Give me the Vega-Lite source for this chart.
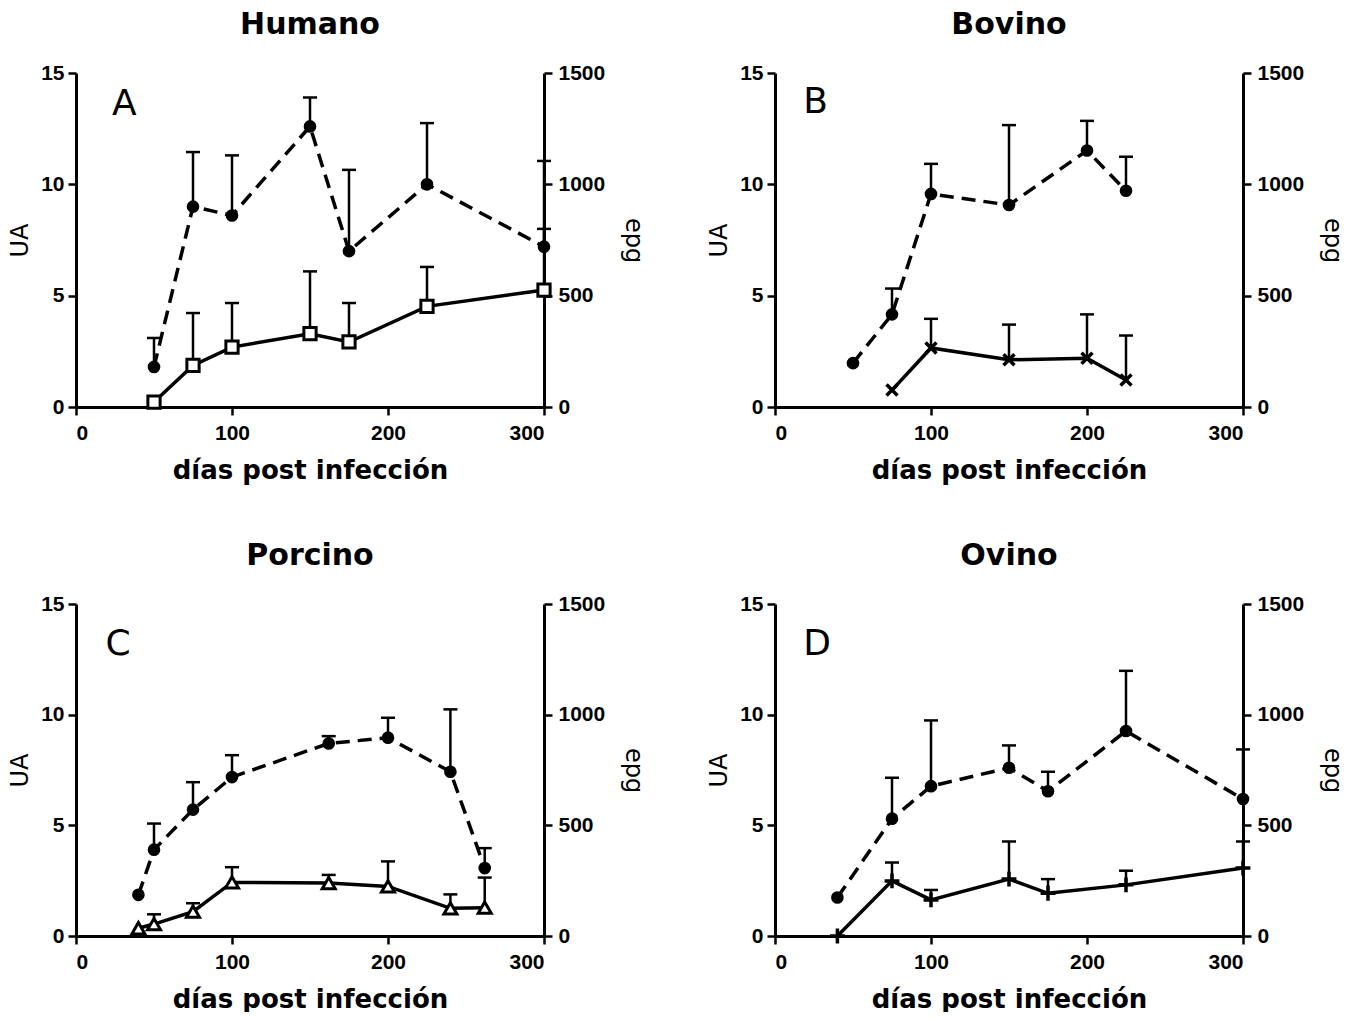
{
  "$schema": "https://vega.github.io/schema/vega-lite/v6.json",
  "background": "white",
  "padding": {"left": 8, "top": 10, "right": 6, "bottom": 0},
  "datasets": {
    "humano": [
      {"dia": 50, "serie": "epg", "valor": 180, "sup": 310},
      {"dia": 75, "serie": "epg", "valor": 900, "sup": 1145},
      {"dia": 100, "serie": "epg", "valor": 860, "sup": 1130},
      {"dia": 150, "serie": "epg", "valor": 1260, "sup": 1390},
      {"dia": 175, "serie": "epg", "valor": 700, "sup": 1065},
      {"dia": 225, "serie": "epg", "valor": 1000, "sup": 1275},
      {"dia": 300, "serie": "epg", "valor": 720, "sup": 1105},
      {"dia": 50, "serie": "UA", "valor": 0.22, "sup": null},
      {"dia": 75, "serie": "UA", "valor": 1.87, "sup": 4.22},
      {"dia": 100, "serie": "UA", "valor": 2.69, "sup": 4.67},
      {"dia": 150, "serie": "UA", "valor": 3.29, "sup": 6.09},
      {"dia": 175, "serie": "UA", "valor": 2.92, "sup": 4.67},
      {"dia": 225, "serie": "UA", "valor": 4.52, "sup": 6.29},
      {"dia": 300, "serie": "UA", "valor": 5.25, "sup": 8.0}
    ],
    "bovino": [
      {"dia": 50, "serie": "epg", "valor": 197, "sup": null},
      {"dia": 75, "serie": "epg", "valor": 416, "sup": 532},
      {"dia": 100, "serie": "epg", "valor": 957, "sup": 1092},
      {"dia": 150, "serie": "epg", "valor": 907, "sup": 1266},
      {"dia": 200, "serie": "epg", "valor": 1152, "sup": 1285},
      {"dia": 225, "serie": "epg", "valor": 971, "sup": 1124},
      {"dia": 75, "serie": "UA", "valor": 0.76, "sup": null},
      {"dia": 100, "serie": "UA", "valor": 2.65, "sup": 3.96},
      {"dia": 150, "serie": "UA", "valor": 2.12, "sup": 3.7},
      {"dia": 200, "serie": "UA", "valor": 2.19, "sup": 4.16},
      {"dia": 225, "serie": "UA", "valor": 1.21, "sup": 3.21}
    ],
    "porcino": [
      {"dia": 40, "serie": "epg", "valor": 186, "sup": null},
      {"dia": 50, "serie": "epg", "valor": 390, "sup": 508},
      {"dia": 75, "serie": "epg", "valor": 571, "sup": 695},
      {"dia": 100, "serie": "epg", "valor": 718, "sup": 817},
      {"dia": 162, "serie": "epg", "valor": 870, "sup": 903},
      {"dia": 200, "serie": "epg", "valor": 896, "sup": 986},
      {"dia": 240, "serie": "epg", "valor": 742, "sup": 1024},
      {"dia": 262, "serie": "epg", "valor": 307, "sup": 397},
      {"dia": 40, "serie": "UA", "valor": 0.35, "sup": null},
      {"dia": 50, "serie": "UA", "valor": 0.54, "sup": 0.98},
      {"dia": 75, "serie": "UA", "valor": 1.1, "sup": 1.48},
      {"dia": 100, "serie": "UA", "valor": 2.42, "sup": 3.11},
      {"dia": 162, "serie": "UA", "valor": 2.39, "sup": 2.76},
      {"dia": 200, "serie": "UA", "valor": 2.24, "sup": 3.37},
      {"dia": 240, "serie": "UA", "valor": 1.25, "sup": 1.88},
      {"dia": 262, "serie": "UA", "valor": 1.28, "sup": 2.64}
    ],
    "ovino": [
      {"dia": 40, "serie": "epg", "valor": 174, "sup": null},
      {"dia": 75, "serie": "epg", "valor": 530, "sup": 715},
      {"dia": 100, "serie": "epg", "valor": 677, "sup": 974},
      {"dia": 150, "serie": "epg", "valor": 760, "sup": 861},
      {"dia": 175, "serie": "epg", "valor": 654, "sup": 742},
      {"dia": 225, "serie": "epg", "valor": 926, "sup": 1198},
      {"dia": 300, "serie": "epg", "valor": 619, "sup": 843},
      {"dia": 40, "serie": "UA", "valor": 0, "sup": null},
      {"dia": 75, "serie": "UA", "valor": 2.49, "sup": 3.32},
      {"dia": 100, "serie": "UA", "valor": 1.63, "sup": 2.08},
      {"dia": 150, "serie": "UA", "valor": 2.57, "sup": 4.27},
      {"dia": 175, "serie": "UA", "valor": 1.93, "sup": 2.57},
      {"dia": 225, "serie": "UA", "valor": 2.31, "sup": 2.95},
      {"dia": 300, "serie": "UA", "valor": 3.07, "sup": 4.27}
    ]
  },
  "columns": 2,
  "spacing": {"row": 58, "column": 62},
  "concat": [
    {
      "title": "Humano",
      "width": 468, "height": 334,
      "data": {"name": "humano"},
      "layer": [
        {
          "transform": [{"filter": "datum.serie === 'epg'"}],
          "encoding": {
            "x": {"field": "dia", "type": "quantitative", "scale": {"domain": [0, 300], "nice": false}, "axis": {"values": [0, 100, 200, 300], "title": "días post infección"}},
            "y": {"field": "valor", "type": "quantitative", "scale": {"domain": [0, 1500], "nice": false}, "axis": {"orient": "right", "values": [0, 500, 1000, 1500], "format": "d", "title": "epg"}}
          },
          "layer": [
            {"mark": {"type": "line", "strokeDash": [14, 8], "strokeWidth": 3.5, "color": "black"}},
            {"transform": [{"filter": "datum.sup != null"}], "mark": {"type": "rule", "strokeWidth": 2.5, "color": "black"}, "encoding": {"y2": {"field": "sup"}}},
            {"transform": [{"filter": "datum.sup != null"}], "mark": {"type": "point", "shape": "stroke", "size": 196, "strokeWidth": 2.5, "color": "black", "filled": false, "opacity": 1},
             "encoding": {"y": {"field": "sup", "type": "quantitative", "scale": {"domain": [0, 1500], "nice": false}, "axis": {"orient": "right", "values": [0, 500, 1000, 1500], "format": "d", "title": "epg"}}}},
            {"mark": {"type": "point", "shape": "circle", "size": 160, "filled": true, "color": "black", "opacity": 1}}
          ]
        },
        {
          "transform": [{"filter": "datum.serie === 'UA'"}],
          "encoding": {
            "x": {"field": "dia", "type": "quantitative", "scale": {"domain": [0, 300], "nice": false}, "axis": {"values": [0, 100, 200, 300], "title": "días post infección"}},
            "y": {"field": "valor", "type": "quantitative", "scale": {"domain": [0, 15], "nice": false}, "axis": {"values": [0, 5, 10, 15], "title": "UA"}}
          },
          "layer": [
            {"mark": {"type": "line", "strokeWidth": 3.5, "color": "black"}},
            {"transform": [{"filter": "datum.sup != null"}], "mark": {"type": "rule", "strokeWidth": 2.5, "color": "black"}, "encoding": {"y2": {"field": "sup"}}},
            {"transform": [{"filter": "datum.sup != null"}], "mark": {"type": "point", "shape": "stroke", "size": 196, "strokeWidth": 2.5, "color": "black", "filled": false, "opacity": 1},
             "encoding": {"y": {"field": "sup", "type": "quantitative", "scale": {"domain": [0, 15], "nice": false}, "axis": {"values": [0, 5, 10, 15], "title": "UA"}}}},
            {"mark": {"type": "point", "shape": "square", "size": 150, "filled": true, "fill": "white", "stroke": "black", "strokeWidth": 3, "opacity": 1}}
          ]
        },
        {
          "data": {"values": [{"letra": "A", "dia": 31, "valor": 13.6}]},
          "mark": {"type": "text", "font": "DejaVu Sans", "fontSize": 36, "fontWeight": "normal", "color": "black", "align": "center", "baseline": "middle"},
          "encoding": {
            "x": {"field": "dia", "type": "quantitative", "scale": {"domain": [0, 300], "nice": false}, "axis": {"values": [0, 100, 200, 300], "title": "días post infección"}},
            "y": {"field": "valor", "type": "quantitative", "scale": {"domain": [0, 15], "nice": false}, "axis": null},
            "text": {"field": "letra"}
          }
        }
      ],
      "resolve": {"scale": {"y": "independent"}}
    },
    {
      "title": "Bovino",
      "width": 468, "height": 334,
      "data": {"name": "bovino"},
      "layer": [
        {
          "transform": [{"filter": "datum.serie === 'epg'"}],
          "encoding": {
            "x": {"field": "dia", "type": "quantitative", "scale": {"domain": [0, 300], "nice": false}, "axis": {"values": [0, 100, 200, 300], "title": "días post infección"}},
            "y": {"field": "valor", "type": "quantitative", "scale": {"domain": [0, 1500], "nice": false}, "axis": {"orient": "right", "values": [0, 500, 1000, 1500], "format": "d", "title": "epg"}}
          },
          "layer": [
            {"mark": {"type": "line", "strokeDash": [14, 8], "strokeWidth": 3.5, "color": "black"}},
            {"transform": [{"filter": "datum.sup != null"}], "mark": {"type": "rule", "strokeWidth": 2.5, "color": "black"}, "encoding": {"y2": {"field": "sup"}}},
            {"transform": [{"filter": "datum.sup != null"}], "mark": {"type": "point", "shape": "stroke", "size": 196, "strokeWidth": 2.5, "color": "black", "filled": false, "opacity": 1},
             "encoding": {"y": {"field": "sup", "type": "quantitative", "scale": {"domain": [0, 1500], "nice": false}, "axis": {"orient": "right", "values": [0, 500, 1000, 1500], "format": "d", "title": "epg"}}}},
            {"mark": {"type": "point", "shape": "circle", "size": 160, "filled": true, "color": "black", "opacity": 1}}
          ]
        },
        {
          "transform": [{"filter": "datum.serie === 'UA'"}],
          "encoding": {
            "x": {"field": "dia", "type": "quantitative", "scale": {"domain": [0, 300], "nice": false}, "axis": {"values": [0, 100, 200, 300], "title": "días post infección"}},
            "y": {"field": "valor", "type": "quantitative", "scale": {"domain": [0, 15], "nice": false}, "axis": {"values": [0, 5, 10, 15], "title": "UA"}}
          },
          "layer": [
            {"mark": {"type": "line", "strokeWidth": 3.5, "color": "black"}},
            {"transform": [{"filter": "datum.sup != null"}], "mark": {"type": "rule", "strokeWidth": 2.5, "color": "black"}, "encoding": {"y2": {"field": "sup"}}},
            {"transform": [{"filter": "datum.sup != null"}], "mark": {"type": "point", "shape": "stroke", "size": 196, "strokeWidth": 2.5, "color": "black", "filled": false, "opacity": 1},
             "encoding": {"y": {"field": "sup", "type": "quantitative", "scale": {"domain": [0, 15], "nice": false}, "axis": {"values": [0, 5, 10, 15], "title": "UA"}}}},
            {"mark": {"type": "point", "shape": "M-1,-1L1,1M-1,1L1,-1", "size": 120, "filled": false, "stroke": "black", "strokeWidth": 3.5, "opacity": 1}}
          ]
        },
        {
          "data": {"values": [{"letra": "B", "dia": 26, "valor": 13.7}]},
          "mark": {"type": "text", "font": "DejaVu Sans", "fontSize": 36, "fontWeight": "normal", "color": "black", "align": "center", "baseline": "middle"},
          "encoding": {
            "x": {"field": "dia", "type": "quantitative", "scale": {"domain": [0, 300], "nice": false}, "axis": {"values": [0, 100, 200, 300], "title": "días post infección"}},
            "y": {"field": "valor", "type": "quantitative", "scale": {"domain": [0, 15], "nice": false}, "axis": null},
            "text": {"field": "letra"}
          }
        }
      ],
      "resolve": {"scale": {"y": "independent"}}
    },
    {
      "title": "Porcino",
      "width": 468, "height": 332,
      "data": {"name": "porcino"},
      "layer": [
        {
          "transform": [{"filter": "datum.serie === 'epg'"}],
          "encoding": {
            "x": {"field": "dia", "type": "quantitative", "scale": {"domain": [0, 300], "nice": false}, "axis": {"values": [0, 100, 200, 300], "title": "días post infección"}},
            "y": {"field": "valor", "type": "quantitative", "scale": {"domain": [0, 1500], "nice": false}, "axis": {"orient": "right", "values": [0, 500, 1000, 1500], "format": "d", "title": "epg"}}
          },
          "layer": [
            {"mark": {"type": "line", "strokeDash": [14, 8], "strokeWidth": 3.5, "color": "black"}},
            {"transform": [{"filter": "datum.sup != null"}], "mark": {"type": "rule", "strokeWidth": 2.5, "color": "black"}, "encoding": {"y2": {"field": "sup"}}},
            {"transform": [{"filter": "datum.sup != null"}], "mark": {"type": "point", "shape": "stroke", "size": 196, "strokeWidth": 2.5, "color": "black", "filled": false, "opacity": 1},
             "encoding": {"y": {"field": "sup", "type": "quantitative", "scale": {"domain": [0, 1500], "nice": false}, "axis": {"orient": "right", "values": [0, 500, 1000, 1500], "format": "d", "title": "epg"}}}},
            {"mark": {"type": "point", "shape": "circle", "size": 160, "filled": true, "color": "black", "opacity": 1}}
          ]
        },
        {
          "transform": [{"filter": "datum.serie === 'UA'"}],
          "encoding": {
            "x": {"field": "dia", "type": "quantitative", "scale": {"domain": [0, 300], "nice": false}, "axis": {"values": [0, 100, 200, 300], "title": "días post infección"}},
            "y": {"field": "valor", "type": "quantitative", "scale": {"domain": [0, 15], "nice": false}, "axis": {"values": [0, 5, 10, 15], "title": "UA"}}
          },
          "layer": [
            {"mark": {"type": "line", "strokeWidth": 3.5, "color": "black"}},
            {"transform": [{"filter": "datum.sup != null"}], "mark": {"type": "rule", "strokeWidth": 2.5, "color": "black"}, "encoding": {"y2": {"field": "sup"}}},
            {"transform": [{"filter": "datum.sup != null"}], "mark": {"type": "point", "shape": "stroke", "size": 196, "strokeWidth": 2.5, "color": "black", "filled": false, "opacity": 1},
             "encoding": {"y": {"field": "sup", "type": "quantitative", "scale": {"domain": [0, 15], "nice": false}, "axis": {"values": [0, 5, 10, 15], "title": "UA"}}}},
            {"mark": {"type": "point", "shape": "triangle-up", "size": 170, "filled": true, "fill": "white", "stroke": "black", "strokeWidth": 3, "opacity": 1}}
          ]
        },
        {
          "data": {"values": [{"letra": "C", "dia": 27, "valor": 13.2}]},
          "mark": {"type": "text", "font": "DejaVu Sans", "fontSize": 36, "fontWeight": "normal", "color": "black", "align": "center", "baseline": "middle"},
          "encoding": {
            "x": {"field": "dia", "type": "quantitative", "scale": {"domain": [0, 300], "nice": false}, "axis": {"values": [0, 100, 200, 300], "title": "días post infección"}},
            "y": {"field": "valor", "type": "quantitative", "scale": {"domain": [0, 15], "nice": false}, "axis": null},
            "text": {"field": "letra"}
          }
        }
      ],
      "resolve": {"scale": {"y": "independent"}}
    },
    {
      "title": "Ovino",
      "width": 468, "height": 332,
      "data": {"name": "ovino"},
      "layer": [
        {
          "transform": [{"filter": "datum.serie === 'epg'"}],
          "encoding": {
            "x": {"field": "dia", "type": "quantitative", "scale": {"domain": [0, 300], "nice": false}, "axis": {"values": [0, 100, 200, 300], "title": "días post infección"}},
            "y": {"field": "valor", "type": "quantitative", "scale": {"domain": [0, 1500], "nice": false}, "axis": {"orient": "right", "values": [0, 500, 1000, 1500], "format": "d", "title": "epg"}}
          },
          "layer": [
            {"mark": {"type": "line", "strokeDash": [14, 8], "strokeWidth": 3.5, "color": "black"}},
            {"transform": [{"filter": "datum.sup != null"}], "mark": {"type": "rule", "strokeWidth": 2.5, "color": "black"}, "encoding": {"y2": {"field": "sup"}}},
            {"transform": [{"filter": "datum.sup != null"}], "mark": {"type": "point", "shape": "stroke", "size": 196, "strokeWidth": 2.5, "color": "black", "filled": false, "opacity": 1},
             "encoding": {"y": {"field": "sup", "type": "quantitative", "scale": {"domain": [0, 1500], "nice": false}, "axis": {"orient": "right", "values": [0, 500, 1000, 1500], "format": "d", "title": "epg"}}}},
            {"mark": {"type": "point", "shape": "circle", "size": 160, "filled": true, "color": "black", "opacity": 1}}
          ]
        },
        {
          "transform": [{"filter": "datum.serie === 'UA'"}],
          "encoding": {
            "x": {"field": "dia", "type": "quantitative", "scale": {"domain": [0, 300], "nice": false}, "axis": {"values": [0, 100, 200, 300], "title": "días post infección"}},
            "y": {"field": "valor", "type": "quantitative", "scale": {"domain": [0, 15], "nice": false}, "axis": {"values": [0, 5, 10, 15], "title": "UA"}}
          },
          "layer": [
            {"mark": {"type": "line", "strokeWidth": 3.5, "color": "black"}},
            {"transform": [{"filter": "datum.sup != null"}], "mark": {"type": "rule", "strokeWidth": 2.5, "color": "black"}, "encoding": {"y2": {"field": "sup"}}},
            {"transform": [{"filter": "datum.sup != null"}], "mark": {"type": "point", "shape": "stroke", "size": 196, "strokeWidth": 2.5, "color": "black", "filled": false, "opacity": 1},
             "encoding": {"y": {"field": "sup", "type": "quantitative", "scale": {"domain": [0, 15], "nice": false}, "axis": {"values": [0, 5, 10, 15], "title": "UA"}}}},
            {"mark": {"type": "point", "shape": "M-1,0L1,0M0,-1L0,1", "size": 220, "filled": false, "stroke": "black", "strokeWidth": 3.5, "opacity": 1}}
          ]
        },
        {
          "data": {"values": [{"letra": "D", "dia": 27, "valor": 13.2}]},
          "mark": {"type": "text", "font": "DejaVu Sans", "fontSize": 36, "fontWeight": "normal", "color": "black", "align": "center", "baseline": "middle"},
          "encoding": {
            "x": {"field": "dia", "type": "quantitative", "scale": {"domain": [0, 300], "nice": false}, "axis": {"values": [0, 100, 200, 300], "title": "días post infección"}},
            "y": {"field": "valor", "type": "quantitative", "scale": {"domain": [0, 15], "nice": false}, "axis": null},
            "text": {"field": "letra"}
          }
        }
      ],
      "resolve": {"scale": {"y": "independent"}}
    }
  ],
  "config": {
    "view": {"stroke": null},
    "axis": {
      "grid": false,
      "domainColor": "black", "domainWidth": 3,
      "tickColor": "black", "tickWidth": 2.5, "tickSize": 8,
      "labelFont": "Liberation Sans", "labelFontWeight": "bold", "labelFontSize": 21, "labelColor": "black",
      "titleColor": "black", "titleFont": "DejaVu Sans"
    },
    "axisX": {"labelPadding": 7, "titleFontSize": 26, "titleFontWeight": "bold", "titlePadding": 14},
    "axisLeft": {"labelPadding": 4, "titleFontSize": 24, "titleFontWeight": "normal", "titlePadding": 8},
    "axisRight": {"labelPadding": 6, "titleFontSize": 24, "titleFontWeight": "normal", "titlePadding": 16},
    "title": {"font": "DejaVu Sans", "fontSize": 30, "fontWeight": "bold", "color": "black", "anchor": "middle", "offset": 22}
  }
}
